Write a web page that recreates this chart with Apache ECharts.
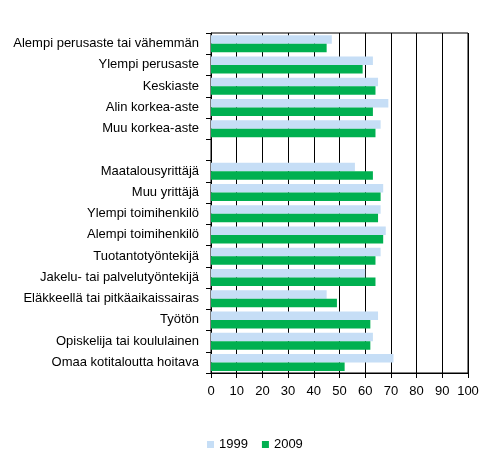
<!DOCTYPE html>
<html lang='fi'>
<head>
    <meta charset='UTF-8'>
    <title></title>
    <style>
        html, body { margin: 0; padding: 0; background: #ffffff; }
        #chart { width: 489px; height: 463px; }
    </style>
</head>
<body>
    <div id='chart'></div>
</body>
<script src='https://cdn.jsdelivr.net/npm/echarts@6/dist/echarts.min.js'></script>
<script>
    var categories = [
        'Alempi perusaste tai vähemmän',
        'Ylempi perusaste',
        'Keskiaste',
        'Alin korkea-aste',
        'Muu korkea-aste',
        '',
        'Maatalousyrittäjä',
        'Muu yrittäjä',
        'Ylempi toimihenkilö',
        'Alempi toimihenkilö',
        'Tuotantotyöntekijä',
        'Jakelu- tai palvelutyöntekijä',
        'Eläkkeellä tai pitkäaikaissairas',
        'Työtön',
        'Opiskelija tai koululainen',
        'Omaa kotitaloutta hoitava'
    ];
    var values1999 = [47, 63, 65, 69, 66, null, 56, 67, 66, 68, 66, 60, 45, 65, 63, 71];
    var values2009 = [45, 59, 64, 63, 64, null, 63, 66, 65, 67, 64, 64, 49, 62, 62, 52];
    var xTicks = { min: 0, max: 100, step: 10 };

    var model = {
        init: function () {
            var mychart = echarts.init(document.getElementById('chart'));
            var font = 'Liberation Sans, Arial, sans-serif';
            var option = {
                animation: false,
                color: ['#C6DEF6', '#00B050'],
                textStyle: { fontFamily: font },
                legend: {
                    left: 202,
                    top: 433,
                    icon: 'rect',
                    itemWidth: 7,
                    itemHeight: 7,
                    itemGap: 14,
                    itemTextGap: 3,
                    textStyle: { fontSize: 13, color: '#000', fontFamily: font },
                    data: ['1999', '2009']
                },
                grid: {
                    left: 211,
                    right: 21,
                    top: 33,
                    bottom: 90,
                    show: true,
                    borderColor: '#000',
                    borderWidth: 1
                },
                xAxis: {
                    type: 'value',
                    min: xTicks.min,
                    max: xTicks.max,
                    interval: xTicks.step,
                    axisLine: { show: true, lineStyle: { color: '#000' } },
                    axisTick: { show: true, length: 5, lineStyle: { color: '#000' } },
                    axisLabel: { color: '#000', fontSize: 13, margin: 12 },
                    splitLine: { show: true, lineStyle: { color: '#000' } }
                },
                yAxis: {
                    type: 'category',
                    inverse: true,
                    data: categories,
                    axisLine: { show: true, lineStyle: { color: '#000' } },
                    axisTick: { show: true, length: 5, lineStyle: { color: '#000' } },
                    axisLabel: { color: '#000', fontSize: 13, margin: 12 }
                },
                series: [
                    {
                        name: '1999',
                        type: 'bar',
                        data: values1999,
                        barGap: '0%',
                        barCategoryGap: '20%',
                        silent: true
                    },
                    {
                        name: '2009',
                        type: 'bar',
                        data: values2009,
                        barGap: '0%',
                        barCategoryGap: '20%',
                        silent: true
                    }
                ]
            };
            mychart.setOption(option);
        }
    };
    model.init();
</script>
</html>
